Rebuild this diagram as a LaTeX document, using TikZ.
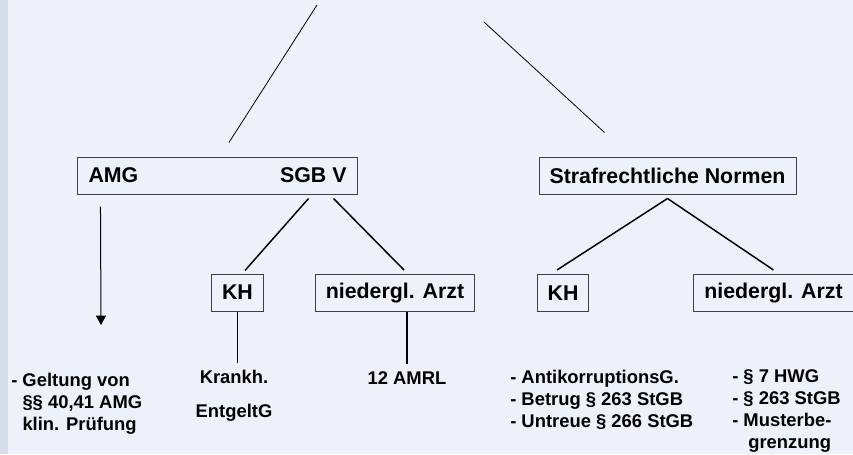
\documentclass[tikz,border=0pt]{standalone}
\usepackage{fontspec}
\setmainfont{Liberation Sans}
\usetikzlibrary{arrows.meta, positioning}
\definecolor{hintergrund}{RGB}{237,241,250}
\definecolor{rand}{RGB}{214,221,234}
\tikzstyle{norm} = [
  rectangle,
  minimum height=27.75pt,
  inner xsep=7.9pt,
  inner ysep=0,
  text centered,
  draw=black!75,
  line width=0.75pt,
  font=\fontsize{16pt}{18pt}\selectfont\bfseries
]
\tikzstyle{quelle} = [
  inner sep=0,
  align=left,
  font=\fontsize{13.8pt}{16.3pt}\selectfont\bfseries
]
\tikzstyle{ast} = [
  line width=1.1pt
]
\tikzstyle{duenn} = [
  line width=0.6pt
]
\tikzstyle{pfeil} = [
  line width=0.75pt,
  -{Triangle[width=7.5pt,length=7pt]}
]
\begin{document}
\begin{tikzpicture}[x=0.75pt, y=-0.75pt]

    \fill [hintergrund] (0,0) rectangle (853,454);
    \fill [rand] (0,0) rectangle (8,454);
    \useasboundingbox (0,0) rectangle (853,454);

    \coordinate (titell) at (317,5);
    \coordinate (titelr) at (484,22);
    \coordinate (amgpfeil) at (101,325);

    \node (gesetze) [norm] at (217.5,175.5) {\makebox[193.5pt]{AMG\hfill SGB V}};
    \node (strafn) [norm] at (667.5,175.5) {Strafrechtliche Normen};
    \node (khl) [norm] at (237.5,292.5) {KH};
    \node (nal) [norm] at (395,293) {niedergl. Arzt};
    \node (khr) [norm] at (563,293) {KH};
    \node (nar) [norm] at (773.5,293) {niedergl. Arzt};

    % base = letzte Zeile
    \node (geltung) [quelle, anchor=base west] at (11,430) {- Geltung von\\\hphantom{- }§§ 40,41 AMG\\\hphantom{- }klin. Prüfung};
    \node (krankh) [quelle, align=center, anchor=base] at (234,417) {Krankh.\\[8.5pt]EntgeltG};
    \node (amrl) [quelle, anchor=base] at (407,384) {12 AMRL};
    \node (delikte) [quelle, anchor=base west] at (510,427) {- AntikorruptionsG.\\- Betrug § 263 StGB\\- Untreue § 266 StGB};
    \node (hwg) [quelle, anchor=base west] at (732,448) {- § 7 HWG\\- § 263 StGB\\- Musterbe-\\\hspace*{12pt}grenzung};

    \draw [duenn] (titell) -- ([xshift=8.6pt,yshift=10.5pt]gesetze.north);
    \draw [duenn] (titelr) -- ([xshift=49.5pt,yshift=18pt]strafn.north west);
    \draw [pfeil] ([xshift=17.25pt,yshift=-9pt]gesetze.south west) -- (amgpfeil);
    \draw [ast] ([xshift=-36.75pt,yshift=-3pt]gesetze.south east) -- ([xshift=5.6pt,yshift=2.25pt]khl.north);
    \draw [ast] ([xshift=-18pt,yshift=-3pt]gesetze.south east) -- ([xshift=6.75pt,yshift=3pt]nal.north);
    \draw [ast] ([yshift=-3pt]strafn.south) -- ([xshift=-4.5pt,yshift=3pt]khr.north);
    \draw [ast] ([yshift=-3pt]strafn.south) -- ([yshift=3pt]nar.north);
    \draw [ast, shorten >=5.25pt] (khl.south) -- (khl.south |- krankh.north);
    \draw [ast, shorten >=5.25pt] (amrl.north |- nal.south) -- (amrl.north);

  \end{tikzpicture}
\end{document}
